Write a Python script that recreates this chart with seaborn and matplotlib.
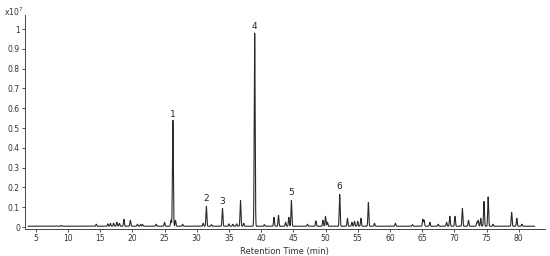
import numpy as np
import pandas as pd
import matplotlib
matplotlib.use("Agg")
import matplotlib.pyplot as plt
import seaborn as sns

# Peak table (retention time in min, intensity in units of 1e7)
peak_rt = [9.0, 14.4, 16.2, 16.6, 17.1, 17.6, 18.0, 18.7, 19.7, 20.8, 21.3, 21.6,
           23.7, 25.0, 26.0, 26.3, 26.7, 27.8, 31.0, 31.5, 32.3, 34.0, 35.0, 35.6,
           36.2, 36.8, 37.3, 39.0, 40.5, 42.0, 42.7, 43.8, 44.3, 44.7, 47.2, 48.5,
           49.6, 50.0, 50.3, 52.2, 53.4, 54.1, 54.5, 55.0, 55.5, 56.65, 57.6, 60.85,
           63.5, 65.1, 65.3, 66.2, 67.5, 68.8, 69.3, 70.1, 71.25, 72.2, 73.5, 73.7,
           74.1, 74.6, 75.25, 76.0, 78.9, 79.7, 80.5]
peak_h = [0.004, 0.01, 0.012, 0.014, 0.016, 0.02, 0.015, 0.035, 0.03, 0.01, 0.01, 0.008,
          0.01, 0.02, 0.03, 0.535, 0.03, 0.01, 0.015, 0.10, 0.008, 0.09, 0.012, 0.01,
          0.012, 0.13, 0.015, 0.975, 0.008, 0.045, 0.055, 0.02, 0.045, 0.13, 0.01, 0.027,
          0.03, 0.05, 0.02, 0.16, 0.04, 0.02, 0.025, 0.025, 0.04, 0.12, 0.015, 0.015,
          0.008, 0.035, 0.03, 0.02, 0.01, 0.02, 0.05, 0.05, 0.09, 0.03, 0.02, 0.03,
          0.04, 0.125, 0.148, 0.01, 0.07, 0.04, 0.01]

# Labelled peaks
label_text = ["1", "2", "3", "4", "5", "6"]
label_rt = [26.3, 31.5, 34.0, 39.0, 44.7, 52.2]
label_y = [0.57, 0.145, 0.128, 1.012, 0.173, 0.204]

rt_start, rt_end = 3.8, 82.5
baseline = 0.004
width = 0.07

t = np.arange(rt_start, rt_end, 0.01)
signal = np.full_like(t, baseline)
for rt, h in zip(peak_rt, peak_h):
    signal += h * np.exp(-0.5 * ((t - rt) / width) ** 2)
df = pd.DataFrame({"Retention Time (min)": t, "Intensity": signal})

sns.set_style("white")
plt.rcParams["font.family"] = ["DejaVu Sans"]

fig = plt.figure(figsize=(5.5, 2.56), dpi=100)
ax = fig.add_axes([0.045, 0.1055, 0.945, 0.835])
sns.lineplot(data=df, x="Retention Time (min)", y="Intensity", estimator=None,
             color="#2a2a2a", linewidth=0.8, ax=ax)

for txt, x, y in zip(label_text, label_rt, label_y):
    ax.text(x, y, txt, ha="center", va="center", fontsize=6.5, color="#222222")

ax.set_xlim(3.3, 84)
ax.set_ylim(-0.01, 1.07)
ax.set_xticks(np.arange(5, 81, 5))
yt = np.round(np.arange(0, 1.01, 0.1), 1)
ax.set_yticks(yt)
ax.set_yticklabels(["0"] + [f"{v:g}" for v in yt[1:-1]] + ["1"])
ax.tick_params(axis="both", labelsize=5.5, colors="#333333", length=2, width=0.6, pad=1.5,
               direction="out", left=True, bottom=True)
ax.set_xlabel("Retention Time (min)", fontsize=6, color="#333333", labelpad=3)
ax.set_ylabel("")
for s in ["top", "right"]:
    ax.spines[s].set_visible(False)
for s in ["left", "bottom"]:
    ax.spines[s].set_color("#444444")
    ax.spines[s].set_linewidth(0.7)

fig.text(0.008, 0.955, r"x10$^7$", fontsize=5.5, color="#333333", ha="left", va="center")

fig.savefig("out.png", dpi=100, facecolor="white")
